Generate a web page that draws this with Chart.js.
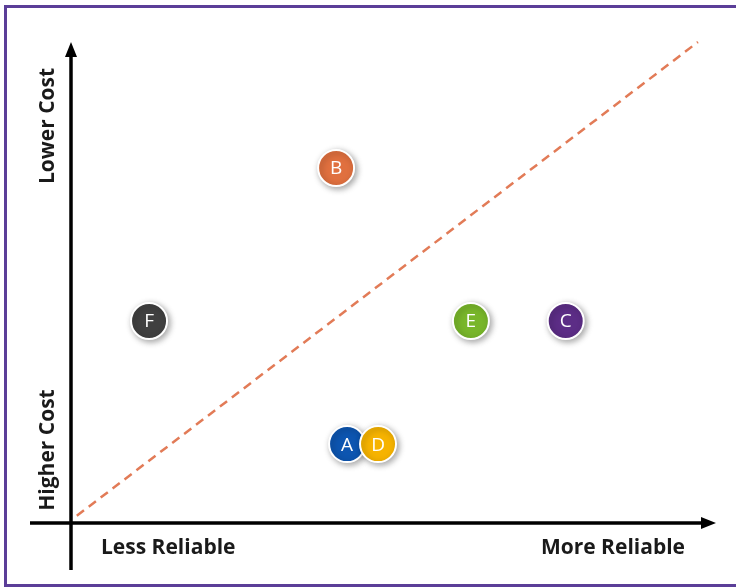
<!DOCTYPE html>
<html>
<head>
<meta charset="utf-8">
<script src="https://cdn.jsdelivr.net/npm/chart.js@4"></script>
<style>
  html, body { margin: 0; padding: 0; background: #fff; }
  #wrap { width: 736px; height: 588px; }
</style>
</head>
<body>
<div id="wrap"><canvas id="myBubbleChart" width="736" height="588"></canvas></div>
<script>
// BUBBLE / QUADRANT CHART SCRIPT

var pointLabels = ['B', 'F', 'E', 'C', 'A', 'D'];
var reliability = [4.11, 1.21, 6.20, 7.67, 4.28, 4.76];
var costScore = [7.38, 4.20, 4.20, 4.20, 1.64, 1.64];
var pointColors = ['#E0703F', '#404040', '#78B62A', '#5C2D86', '#0D55B0', '#F6B300'];

var trendX = [0.09, 9.72];
var trendY = [0.15, 10];

var axisLabels = {
  xLow: 'Less Reliable',
  xHigh: 'More Reliable',
  yLow: 'Higher Cost',
  yHigh: 'Lower Cost'
};

var bubbleData = pointLabels.map(function (l, i) {
  return { x: reliability[i], y: costScore[i], r: 18 };
});
var trendData = trendX.map(function (x, i) {
  return { x: x, y: trendY[i] };
});

// frame, arrows and side labels
var quadrantFrame = {
  id: 'quadrantFrame',
  beforeDraw: function (chart) {
    var c = chart.ctx;
    c.save();
    c.fillStyle = '#fff';
    c.fillRect(0, 0, chart.width, chart.height);
    c.strokeStyle = '#5B3E98';
    c.lineWidth = 3;
    c.beginPath();
    c.moveTo(740, 6.5);
    c.lineTo(5.5, 6.5);
    c.lineTo(5.5, 585.5);
    c.lineTo(740, 585.5);
    c.stroke();
    c.restore();
  },
  afterDraw: function (chart) {
    var c = chart.ctx;
    var a = chart.chartArea;
    c.save();
    c.strokeStyle = '#000';
    c.fillStyle = '#000';
    c.lineWidth = 3.5;
    // y axis
    c.beginPath();
    c.moveTo(a.left, 570);
    c.lineTo(a.left, a.top + 12);
    c.stroke();
    c.beginPath();
    c.moveTo(a.left, a.top);
    c.lineTo(a.left - 6, a.top + 15);
    c.lineTo(a.left + 6, a.top + 15);
    c.closePath();
    c.fill();
    // x axis
    c.beginPath();
    c.moveTo(30, a.bottom);
    c.lineTo(a.right - 12, a.bottom);
    c.stroke();
    c.beginPath();
    c.moveTo(a.right, a.bottom);
    c.lineTo(a.right - 15, a.bottom - 6);
    c.lineTo(a.right - 15, a.bottom + 6);
    c.closePath();
    c.fill();

    c.fillStyle = '#1a1a1a';
    c.font = 'bold 21px "Open Sans"';
    c.textBaseline = 'middle';
    c.textAlign = 'left';
    c.fillText(axisLabels.xLow, 101, 548);
    c.textAlign = 'right';
    c.fillText(axisLabels.xHigh, 685, 548);
    c.save();
    c.translate(48, 0);
    c.rotate(-Math.PI / 2);
    c.textAlign = 'center';
    c.fillText(axisLabels.yHigh, -126, 0);
    c.fillText(axisLabels.yLow, -450, 0);
    c.restore();
    c.restore();
  },
  beforeDatasetDraw: function (chart, args) {
    if (args.index === 1) {
      var c = chart.ctx;
      c.save();
      c.shadowColor = 'rgba(0,0,0,0.35)';
      c.shadowBlur = 6;
      c.shadowOffsetX = 2;
      c.shadowOffsetY = 2;
    }
  },
  afterDatasetDraw: function (chart, args) {
    if (args.index === 1) {
      var c = chart.ctx;
      c.restore();
      var meta = chart.getDatasetMeta(1);
      c.save();
      c.fillStyle = '#fff';
      c.font = '19px "Open Sans"';
      c.textAlign = 'center';
      c.textBaseline = 'middle';
      meta.data.forEach(function (el, i) {
        c.fillText(pointLabels[i], el.x, el.y + 1);
      });
      c.restore();
    }
  }
};

var ctxBubble = document.getElementById('myBubbleChart').getContext('2d');
var myChart = new Chart(ctxBubble, {
  type: 'bubble',
  data: {
    datasets: [{
      type: 'line',
      label: 'Trend',
      data: trendData,
      borderColor: '#E27B57',
      borderWidth: 2.5,
      borderDash: [9, 6],
      pointRadius: 0,
      fill: false,
      clip: false
    }, {
      label: 'Options',
      data: bubbleData,
      backgroundColor: pointColors,
      borderColor: '#fff',
      borderWidth: 2,
      clip: false
    }]
  },
  options: {
    responsive: false,
    animation: false,
    layout: {
      padding: { left: 71, right: 20, top: 42, bottom: 65 }
    },
    scales: {
      x: { type: 'linear', min: 0, max: 10, display: false },
      y: { type: 'linear', min: 0, max: 10, display: false }
    },
    plugins: {
      legend: { display: false },
      tooltip: { enabled: false }
    }
  },
  plugins: [quadrantFrame]
});
</script>
</body>
</html>
